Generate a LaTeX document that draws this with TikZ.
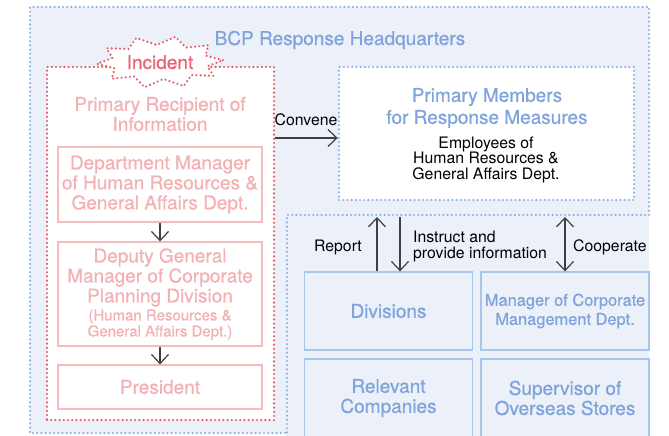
\documentclass[tikz,border=0pt]{standalone}
\usepackage{fontspec}
\setmainfont{TeX Gyre Heros}
\newfontfamily\medfont{TeX Gyre Heros}[FakeBold=0.6]
\usetikzlibrary{arrows.meta,calc}
\definecolor{bgblue}{HTML}{ECF0F9}
\definecolor{dotblue}{HTML}{8EB2E6}
\definecolor{tblue}{HTML}{7EA4DB}
\definecolor{boxblue}{HTML}{A9C5EE}
\definecolor{dotred}{HTML}{E95A66}
\definecolor{tred}{HTML}{E8636D}
\definecolor{tpink}{HTML}{F4B1B3}
\definecolor{bpink}{HTML}{F6BCBD}
\definecolor{agray}{HTML}{404040}
\newcommand\ftitle{\medfont\fontsize{19}{20}\selectfont}
\newcommand\fpink{\medfont\fontsize{19}{20}\selectfont}
\newcommand\fsmallp{\medfont\fontsize{15}{16}\selectfont}
\newcommand\flbl{\fontsize{15.8}{15.5}\selectfont}
\newcommand\fblue{\medfont\fontsize{19}{20}\selectfont}
\newcommand\fmgr{\medfont\fontsize{16.4}{19}\selectfont}
\newcommand\fpm{\medfont\fontsize{19}{22}\selectfont}
\begin{document}
\begin{tikzpicture}[x=1pt,y=-1pt,
 dotb/.style={draw=dotblue,line width=2.4pt,line cap=round,dash pattern=on 0pt off 4.2pt},
 dotr/.style={draw=dotred,line width=2.4pt,line cap=round,dash pattern=on 0pt off 4.2pt},
 pinkbox/.style={draw=bpink,line width=1.3pt,fill=white,minimum width=204pt,align=center,text=tpink,font=\fpink,inner sep=0pt},
 bluebox/.style={draw=boxblue,line width=1.3pt,fill=bgblue,minimum width=168pt,minimum height=78pt,align=center,text=tblue,font=\fblue,inner sep=0pt},
 arr/.style={draw=agray,line width=1.2pt,-{Straight Barb[length=9pt,width=17pt]}},
 dblarr/.style={draw=agray,line width=1.2pt,{Straight Barb[length=9pt,width=17pt]}-{Straight Barb[length=9pt,width=17pt]}},
 lbl/.style={text=black,font=\flbl,inner sep=0pt},
]
\useasboundingbox (0,0) rectangle (669,436);
\clip (0,0) rectangle (669,436);
% BCP region
\fill[bgblue] (30,7) -- (649,7) -- (649,445) -- (287,445) -- (287,433) -- (30,433) -- cycle;
\draw[dotb] (287,445) -- (287,215) -- (649,215) -- (649,7) -- (30,7) -- (30,433) -- (287,433);
\node[font=\ftitle,text=tblue,anchor=base,inner sep=0pt] (bcp) at (340,45) {BCP Response Headquarters};
% red region
\node[dotr,fill=white,minimum width=227pt,minimum height=353pt,inner sep=0pt] (resp) at (160.5,243.5) {};
\draw[dotr,fill=white] plot[samples at={0,...,19},variable=\t]
  ({160+ifthenelse(iseven(\t),63,49)*cos(\t*18+4)},{62-ifthenelse(iseven(\t),26,17)*sin(\t*18+4)}) -- cycle;
\node[font=\fpink,text=tred,anchor=base,inner sep=0pt] (inc) at (160,69) {Incident};
\node[font=\fpink,text=tpink,align=center,inner sep=0pt] (prim) at (160,114) {Primary Recipient of\\Information};
\node[pinkbox,minimum height=75pt] (dep) at (160,184.5) {Department Manager\\of Human Resources \&\\General Affairs Dept.};
\node[pinkbox,minimum height=104pt] (dpy) at (160,294) {Deputy General\\Manager of Corporate\\Planning Division\\[-2pt]{\fsmallp(Human Resources \&}\\[-4pt]{\fsmallp General Affairs Dept.)}};
\node[pinkbox,minimum height=44pt] (pres) at (160,387) {President};
\draw[arr] (dep.south) -- (dpy.north);
\draw[arr] (dpy.south) -- (pres.north);
% primary members
\node[dotb,fill=white,minimum width=295pt,minimum height=133pt,inner sep=0pt] (pm) at (486.5,133.5) {};
\node[font=\fpm,text=tblue,align=center,inner sep=0pt] (pmt) at (487,108) {Primary Members\\for Response Measures};
\node[lbl,align=center] (pms) at (486,159.5) {Employees of\\Human Resources \&\\General Affairs Dept.};
% convene
\coordinate (cv) at (300,138);
\draw[arr] (resp.east |- cv) -- (pm.west |- cv);
\node[lbl,anchor=base] (conv) at (306,125) {Convene};
% lower boxes
\node[bluebox] (div) at (388.5,311) {Divisions};
\node[bluebox,font=\fmgr] (mgr) at (565,311) {Manager of Corporate\\Management Dept.};
\node[bluebox] (rel) at (388.5,398) {Relevant\\Companies};
\node[bluebox] (sup) at (565,398) {Supervisor of\\Overseas Stores};
% lower arrows
\coordinate (rp) at (377,217);
\coordinate (ip) at (400,217);
\coordinate (cp) at (565,217);
\draw[arr] (div.north -| rp) -- (rp);
\draw[arr] (ip) -- (div.north -| ip);
\draw[dblarr] (cp) -- (mgr.north);
\node[lbl,anchor=base] (rep) at (338,251) {Report};
\node[lbl,align=left,anchor=west] (ins) at (413,246.5) {Instruct and\\provide information};
\node[lbl,anchor=base west] (coop) at (573,251) {Cooperate};
\end{tikzpicture}
\end{document}
